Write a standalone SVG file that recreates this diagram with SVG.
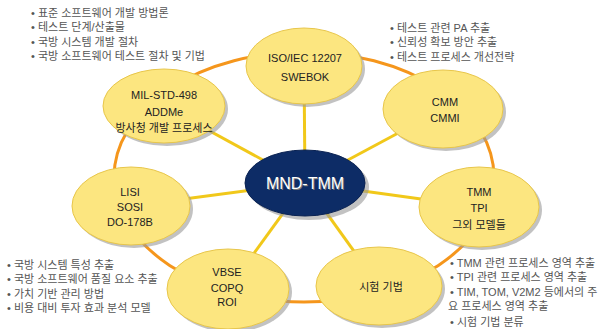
<svg xmlns="http://www.w3.org/2000/svg" width="600" height="329" viewBox="0 0 600 329">
<style>
.ring{fill:none;stroke:#f5961c;stroke-width:3}
.spoke{stroke:#f1c81a;stroke-width:3}
.node{fill:#fce680;stroke:#e8c64a;stroke-width:1}
.shadow{fill:#9a9a9a;opacity:0.6}
.hub{fill:#0d2c66;stroke:#0a2252;stroke-width:1}
.nt{font-family:"Liberation Sans","Noto Sans CJK KR",sans-serif;font-size:11px;fill:#222;text-anchor:middle}
.ht{font-family:"Liberation Sans","Noto Sans CJK KR",sans-serif;font-size:16px;fill:#fff;text-anchor:middle}
.hts{font-family:"Liberation Sans","Noto Sans CJK KR",sans-serif;font-size:16px;fill:#777;text-anchor:middle}
.bl{font-family:"Liberation Sans","Noto Sans CJK KR",sans-serif;font-size:11px;fill:#555}
</style>
<rect width="600" height="329" fill="#fff"/>
<g id="connectors">
<ellipse class="ring" cx="304" cy="177" rx="190" ry="125"/>
<line class="spoke" x1="305" y1="183" x2="304" y2="66"/>
<line class="spoke" x1="305" y1="183" x2="443" y2="109"/>
<line class="spoke" x1="305" y1="183" x2="479" y2="207"/>
<line class="spoke" x1="305" y1="183" x2="379" y2="286"/>
<line class="spoke" x1="305" y1="183" x2="228" y2="289"/>
<line class="spoke" x1="305" y1="183" x2="131" y2="206"/>
<line class="spoke" x1="305" y1="183" x2="164" y2="106"/>
</g>
<g id="node-iso">
<ellipse class="shadow" cx="307" cy="69" rx="58" ry="38"/>
<ellipse class="node" cx="304" cy="66" rx="58" ry="38"/>
<text class="nt" x="305" y="62">ISO/IEC 12207</text>
<text class="nt" x="305" y="81">SWEBOK</text>
</g>
<g id="node-cmm">
<ellipse class="shadow" cx="446" cy="112" rx="60" ry="39"/>
<ellipse class="node" cx="443" cy="109" rx="60" ry="39"/>
<text class="nt" x="445" y="106">CMM</text>
<text class="nt" x="445" y="122">CMMI</text>
</g>
<g id="node-tmm">
<ellipse class="shadow" cx="482" cy="210" rx="60" ry="40"/>
<ellipse class="node" cx="479" cy="207" rx="60" ry="40"/>
<text class="nt" x="479" y="196">TMM</text>
<text class="nt" x="479" y="212">TPI</text>
<text class="nt" x="479" y="229">그외 모델들</text>
</g>
<g id="node-test">
<ellipse class="shadow" cx="382" cy="289" rx="63" ry="39"/>
<ellipse class="node" cx="379" cy="286" rx="63" ry="39"/>
<text class="nt" x="381" y="291">시험 기법</text>
</g>
<g id="node-vbse">
<ellipse class="shadow" cx="231" cy="292" rx="61" ry="40"/>
<ellipse class="node" cx="228" cy="289" rx="61" ry="40"/>
<text class="nt" x="227" y="276">VBSE</text>
<text class="nt" x="227" y="292">COPQ</text>
<text class="nt" x="227" y="306">ROI</text>
</g>
<g id="node-lisi">
<ellipse class="shadow" cx="134" cy="209" rx="59" ry="39"/>
<ellipse class="node" cx="131" cy="206" rx="59" ry="39"/>
<text class="nt" x="130" y="196">LISI</text>
<text class="nt" x="130" y="211">SOSI</text>
<text class="nt" x="130" y="226">DO-178B</text>
</g>
<g id="node-mil">
<ellipse class="shadow" cx="167" cy="109" rx="61" ry="37"/>
<ellipse class="node" cx="164" cy="106" rx="61" ry="37"/>
<text class="nt" x="164" y="99">MIL-STD-498</text>
<text class="nt" x="164" y="116">ADDMe</text>
<text class="nt" x="164" y="132">방사청 개발 프로세스</text>
</g>
<g id="node-hub">
<ellipse class="shadow" cx="309" cy="187" rx="60" ry="33"/>
<ellipse class="hub" cx="305" cy="183" rx="60" ry="33"/>
<text class="hts" x="306" y="190">MND-TMM</text>
<text class="ht" x="305" y="189">MND-TMM</text>
</g>
<g id="notes-top-left">
<text class="bl" x="31" y="17">• 표준 소프트웨어 개발 방법론</text>
<text class="bl" x="31" y="31">• 테스트 단계/산출물</text>
<text class="bl" x="31" y="46">• 국방 시스템 개발 절차</text>
<text class="bl" x="31" y="60">• 국방 소프트웨어 테스트 절차 및 기법</text>
</g>
<g id="notes-top-right">
<text class="bl" x="390" y="32">• 테스트 관련 PA 추출</text>
<text class="bl" x="390" y="46">• 신뢰성 확보 방안 추출</text>
<text class="bl" x="390" y="61">• 테스트 프로세스 개선전략</text>
</g>
<g id="notes-bottom-left">
<text class="bl" x="7" y="269">• 국방 시스템 특성 추출</text>
<text class="bl" x="7" y="283">• 국방 소프트웨어 품질 요소 추출</text>
<text class="bl" x="7" y="298">• 가치 기반 관리 방법</text>
<text class="bl" x="7" y="312">• 비용 대비 투자 효과 분석 모델</text>
</g>
<g id="notes-bottom-right">
<text class="bl" x="450" y="267">• TMM 관련 프로세스 영역 추출</text>
<text class="bl" x="450" y="281">• TPI 관련 프로세스 영역 추출</text>
<text class="bl" x="450" y="296">• TIM, TOM, V2M2 등에서의 주</text>
<text class="bl" x="448" y="310">요 프로세스 영역 추출</text>
<text class="bl" x="450" y="326">• 시험 기법 분류</text>
</g>
</svg>
